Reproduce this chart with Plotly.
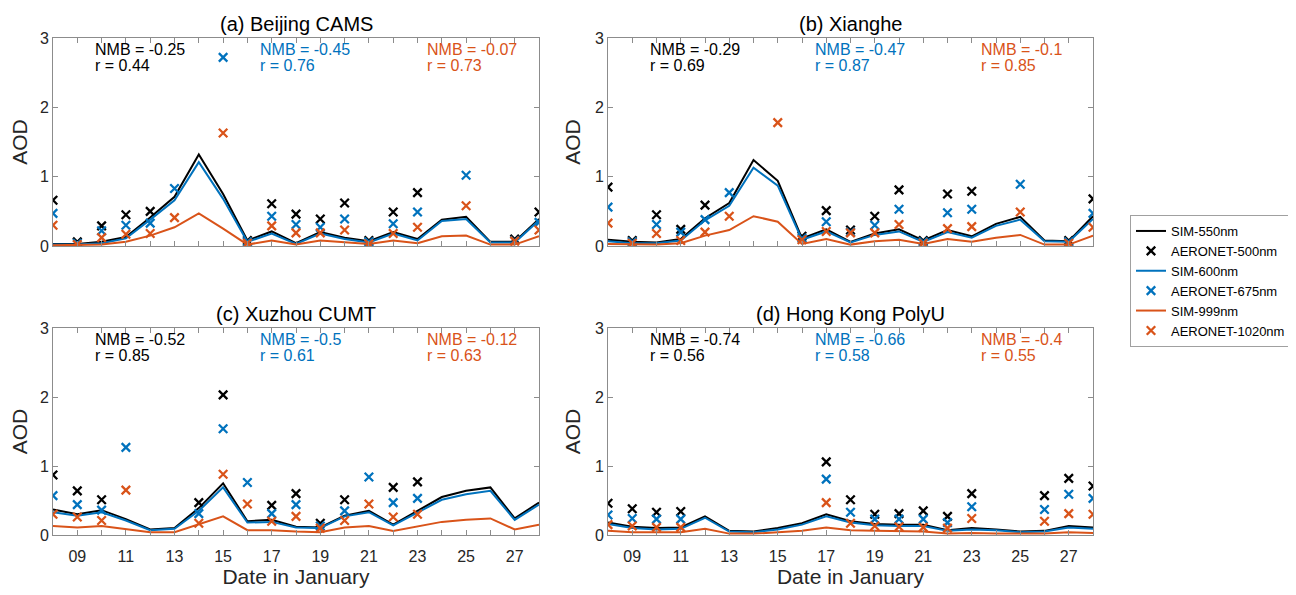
import plotly.graph_objects as go

# ---------------- data ----------------
days = list(range(8, 29))
tick_days = list(range(8, 29))
tick_text = [("%02d" % d) if d % 2 == 1 else "" for d in tick_days]

titles = ["(a) Beijing CAMS", "(b) Xianghe", "(c) Xuzhou CUMT", "(d) Hong Kong PolyU"]

N = None
# (a) Beijing CAMS
sim550_a = [0.03, 0.03, 0.06, 0.13, 0.41, 0.71, 1.32, 0.75, 0.08, 0.21, 0.04, 0.20, 0.12, 0.07, 0.20, 0.10, 0.38, 0.42, 0.06, 0.06, 0.39]
sim600_a = [0.02, 0.02, 0.04, 0.11, 0.38, 0.66, 1.21, 0.68, 0.06, 0.18, 0.03, 0.18, 0.10, 0.05, 0.18, 0.08, 0.36, 0.39, 0.05, 0.05, 0.37]
sim999_a = [0.01, 0.01, 0.02, 0.06, 0.15, 0.27, 0.47, 0.25, 0.02, 0.08, 0.02, 0.08, 0.05, 0.03, 0.08, 0.04, 0.14, 0.15, 0.02, 0.02, 0.14]
obs500_a = [0.66, 0.06, 0.29, 0.45, 0.50, N, N, N, 0.08, 0.61, 0.46, 0.39, 0.62, 0.08, 0.49, 0.77, N, N, N, 0.10, 0.49]
obs675_a = [0.47, 0.04, 0.22, 0.30, 0.33, 0.83, N, 2.72, 0.06, 0.43, 0.31, 0.27, 0.39, 0.06, 0.32, 0.49, N, 1.02, N, 0.08, 0.34]
obs1020_a = [0.30, 0.02, 0.12, 0.17, 0.18, 0.41, N, 1.63, 0.04, 0.29, 0.19, 0.19, 0.23, 0.03, 0.18, 0.27, N, 0.58, N, 0.07, 0.23]

# (b) Xianghe
sim550_b = [0.09, 0.06, 0.05, 0.10, 0.40, 0.62, 1.24, 0.94, 0.11, 0.24, 0.06, 0.18, 0.24, 0.08, 0.23, 0.14, 0.32, 0.42, 0.08, 0.07, 0.43]
sim600_b = [0.07, 0.04, 0.04, 0.08, 0.37, 0.58, 1.13, 0.87, 0.09, 0.21, 0.05, 0.16, 0.21, 0.06, 0.20, 0.12, 0.29, 0.38, 0.07, 0.06, 0.39]
sim999_b = [0.03, 0.02, 0.02, 0.04, 0.15, 0.23, 0.43, 0.35, 0.03, 0.10, 0.02, 0.07, 0.09, 0.03, 0.10, 0.06, 0.12, 0.16, 0.02, 0.02, 0.15]
obs500_b = [0.85, 0.08, 0.45, 0.24, 0.59, N, N, N, 0.14, 0.51, 0.23, 0.43, 0.81, 0.08, 0.75, 0.79, N, N, N, 0.08, 0.68]
obs675_b = [0.56, 0.06, 0.31, 0.20, 0.38, 0.77, N, N, 0.11, 0.35, 0.20, 0.30, 0.53, 0.06, 0.48, 0.53, N, 0.89, N, 0.06, 0.47]
obs1020_b = [0.33, 0.04, 0.18, 0.08, 0.20, 0.43, N, 1.78, 0.09, 0.21, 0.19, 0.19, 0.31, 0.04, 0.25, 0.28, N, 0.49, N, 0.04, 0.27]

# (c) Xuzhou CUMT
sim550_c = [0.37, 0.30, 0.36, 0.23, 0.08, 0.10, 0.39, 0.75, 0.20, 0.22, 0.12, 0.11, 0.28, 0.35, 0.15, 0.35, 0.55, 0.64, 0.69, 0.24, 0.47]
sim600_c = [0.33, 0.28, 0.33, 0.21, 0.07, 0.09, 0.35, 0.69, 0.18, 0.19, 0.11, 0.10, 0.27, 0.33, 0.14, 0.32, 0.51, 0.59, 0.64, 0.22, 0.44]
sim999_c = [0.13, 0.11, 0.13, 0.09, 0.04, 0.04, 0.15, 0.27, 0.07, 0.07, 0.05, 0.04, 0.11, 0.13, 0.06, 0.13, 0.19, 0.22, 0.24, 0.08, 0.15]
obs500_c = [0.87, 0.64, 0.51, N, N, N, 0.47, 2.03, N, 0.43, 0.60, 0.17, 0.51, N, 0.69, 0.77, N, N, N, N, N]
obs675_c = [0.57, 0.44, 0.36, 1.27, N, N, 0.31, 1.54, 0.76, 0.31, 0.44, 0.13, 0.35, 0.84, 0.47, 0.53, N, N, N, N, N]
obs1020_c = [0.30, 0.26, 0.21, 0.65, N, N, 0.17, 0.88, 0.45, 0.20, 0.27, 0.10, 0.21, 0.45, 0.26, 0.30, N, N, N, N, N]

# (d) Hong Kong PolyU
sim550_d = [0.18, 0.12, 0.10, 0.11, 0.27, 0.06, 0.05, 0.10, 0.17, 0.30, 0.20, 0.16, 0.15, 0.15, 0.07, 0.10, 0.08, 0.05, 0.06, 0.13, 0.11]
sim600_d = [0.16, 0.10, 0.08, 0.09, 0.25, 0.05, 0.04, 0.08, 0.15, 0.27, 0.18, 0.14, 0.13, 0.13, 0.06, 0.08, 0.07, 0.04, 0.05, 0.11, 0.09]
sim999_d = [0.06, 0.04, 0.04, 0.04, 0.09, 0.02, 0.02, 0.04, 0.06, 0.11, 0.07, 0.06, 0.05, 0.05, 0.02, 0.03, 0.02, 0.02, 0.02, 0.04, 0.03]
obs500_d = [0.46, 0.38, 0.33, 0.34, N, N, N, N, N, 1.06, 0.51, 0.30, 0.31, 0.35, 0.27, 0.60, N, N, 0.57, 0.82, 0.71]
obs675_d = [0.29, 0.24, 0.23, 0.23, N, N, N, N, N, 0.81, 0.33, 0.23, 0.23, 0.23, 0.18, 0.41, N, N, 0.37, 0.59, 0.53]
obs1020_d = [0.15, 0.13, 0.11, 0.11, N, N, N, N, N, 0.47, 0.17, 0.13, 0.12, 0.11, 0.10, 0.24, N, N, 0.20, 0.31, 0.30]

nmb_550 = ["-0.25", "-0.29", "-0.52", "-0.74"]
r_550 = ["0.44", "0.69", "0.85", "0.56"]
nmb_675 = ["-0.45", "-0.47", "-0.5", "-0.66"]
r_675 = ["0.76", "0.87", "0.61", "0.58"]
nmb_1020 = ["-0.07", "-0.1", "-0.12", "-0.4"]
r_1020 = ["0.73", "0.85", "0.63", "0.55"]

sites = [
    (sim550_a, obs500_a, sim600_a, obs675_a, sim999_a, obs1020_a),
    (sim550_b, obs500_b, sim600_b, obs675_b, sim999_b, obs1020_b),
    (sim550_c, obs500_c, sim600_c, obs675_c, sim999_c, obs1020_c),
    (sim550_d, obs500_d, sim600_d, obs675_d, sim999_d, obs1020_d),
]
series_names = ["SIM-550nm", "AERONET-500nm", "SIM-600nm", "AERONET-675nm", "SIM-999nm", "AERONET-1020nm"]
colors = ["#000000", "#000000", "#0072BD", "#0072BD", "#D95319", "#D95319"]

# ---------------- layout geometry ----------------
# the page body has an 8px margin, so the figure is drawn 8px smaller and offset
OFF = 8
W, H = 1296 - OFF, 595 - OFF
FONT = "Liberation Sans, Arial, sans-serif"
TXT = "#262626"
AXC = "#8c8c8c"


def px_x(p):
    return (p - OFF) / W


def px_y(p):
    return 1 - (p - OFF) / H


xdom = [(px_x(53), px_x(539)), (px_x(608), px_x(1093))] * 2
ydom = [(px_y(246), px_y(38))] * 2 + [(px_y(535), px_y(328))] * 2

fig = go.Figure()
layout = dict(
    width=W, height=H, margin=dict(l=0, r=0, t=0, b=0),
    paper_bgcolor="white", plot_bgcolor="white",
    font=dict(family=FONT, color=TXT, size=16),
    showlegend=True,
    legend=dict(x=px_x(1130), y=px_y(281), xanchor="left", yanchor="middle",
                bordercolor="#a0a0a0", borderwidth=1, bgcolor="white",
                font=dict(size=13, color="#000000", family=FONT),
                tracegroupgap=0, itemwidth=30),
)
annotations = []

for i, site in enumerate(sites):
    xa = "x" if i == 0 else "x%d" % (i + 1)
    ya = "y" if i == 0 else "y%d" % (i + 1)
    for k, (vals, name, col) in enumerate(zip(site, series_names, colors)):
        if k % 2 == 0:
            fig.add_trace(go.Scatter(x=days, y=vals, mode="lines", name=name,
                                     line=dict(color=col, width=2), xaxis=xa, yaxis=ya,
                                     showlegend=(i == 0), legendrank=k))
        else:
            fig.add_trace(go.Scatter(x=days, y=vals, mode="markers", name=name,
                                     marker=dict(symbol="x-thin-open", size=8.5, color=col,
                                                 line=dict(color=col, width=2.3)),
                                     xaxis=xa, yaxis=ya, showlegend=(i == 0), legendrank=k))
    xkey = "xaxis" if i == 0 else "xaxis%d" % (i + 1)
    ykey = "yaxis" if i == 0 else "yaxis%d" % (i + 1)
    bottom = i >= 2
    layout[xkey] = dict(
        domain=list(xdom[i]), anchor=ya, range=[8, 28],
        tickmode="array", tickvals=tick_days,
        ticktext=tick_text if bottom else [""] * len(tick_days),
        ticks="inside", ticklen=5, tickcolor=AXC, tickwidth=1,
        showline=True, linecolor=AXC, linewidth=1, mirror="ticks",
        showgrid=False, zeroline=False, automargin=False,
        tickfont=dict(size=16, color=TXT), ticklabelstandoff=7,
        title=dict(text="Date in January" if bottom else "", font=dict(size=21, color=TXT), standoff=0),
    )
    layout[ykey] = dict(
        domain=list(ydom[i]), anchor=xa, range=[0, 3],
        tickmode="array", tickvals=[0, 1, 2, 3],
        ticks="inside", ticklen=5, tickcolor=AXC, tickwidth=1,
        showline=True, linecolor=AXC, linewidth=1, mirror="ticks",
        showgrid=False, zeroline=False, automargin=False,
        tickfont=dict(size=16, color=TXT),
        title=dict(text="AOD", font=dict(size=21, color=TXT), standoff=8),
    )
    # panel title
    xc = (xdom[i][0] + xdom[i][1]) / 2
    ytitle = ydom[i][1] + 14 / H
    annotations.append(dict(text=titles[i], xref="paper", yref="paper", x=xc, y=ytitle,
                            xanchor="center", yanchor="middle", showarrow=False,
                            font=dict(size=20, color="#000000", family=FONT)))
    # statistics text
    stats = [(9.65, nmb_550[i], r_550[i], "#000000"),
             (16.45, nmb_675[i], r_675[i], "#0072BD"),
             (23.3, nmb_1020[i], r_1020[i], "#D95319")]
    for xs, nmb, rr, col in stats:
        annotations.append(dict(text="NMB = " + nmb, xref=xa, yref=ya, x=xs, y=2.83,
                                xanchor="left", yanchor="middle", showarrow=False,
                                font=dict(size=16, color=col, family=FONT)))
        annotations.append(dict(text="r = " + rr, xref=xa, yref=ya, x=xs, y=2.60,
                                xanchor="left", yanchor="middle", showarrow=False,
                                font=dict(size=16, color=col, family=FONT)))

layout["annotations"] = annotations
fig.update_layout(**layout)
fig.write_html("out.html")
